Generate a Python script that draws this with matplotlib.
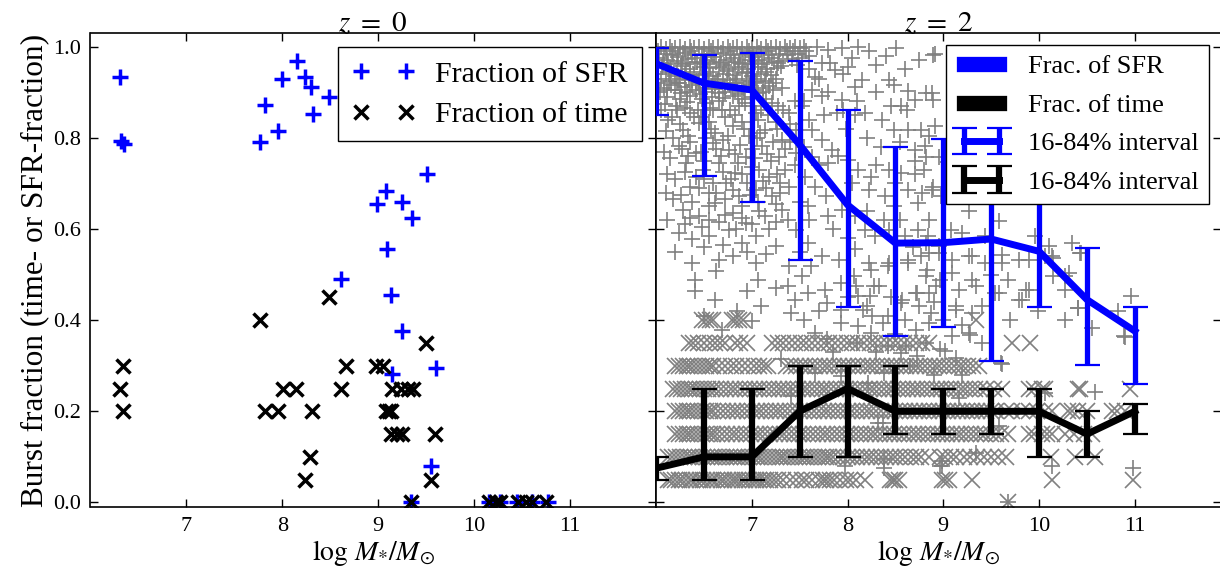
import numpy as np
import matplotlib.pyplot as plt
from matplotlib.lines import Line2D

plt.rcParams['font.family'] = ['Liberation Serif', 'DejaVu Serif']
plt.rcParams['mathtext.fontset'] = 'stix'

# ---- z = 0 : individual galaxies ----
sfr0 = [(6.31, 0.934), (6.32, 0.792), (6.35, 0.787), (7.77, 0.790), (7.82, 0.872),
        (7.96, 0.816), (8.00, 0.929), (8.15, 0.969), (8.24, 0.934), (8.30, 0.912),
        (8.32, 0.852), (8.49, 0.890), (8.61, 0.490), (9.51, 0.720), (9.08, 0.683),
        (8.99, 0.655), (9.25, 0.660), (9.35, 0.625), (9.09, 0.557), (9.14, 0.456),
        (9.25, 0.376), (9.60, 0.295), (9.15, 0.281), (9.55, 0.079), (9.34, 0.0),
        (10.16, 0.0), (10.27, 0.0), (10.45, 0.0), (10.61, 0.0), (10.77, 0.0)]
time0 = [(6.34, 0.30), (6.31, 0.25), (6.34, 0.20), (7.77, 0.40), (7.82, 0.20),
         (7.96, 0.20), (8.01, 0.25), (8.14, 0.25), (8.31, 0.20), (8.29, 0.10),
         (8.24, 0.05), (8.49, 0.45), (8.67, 0.30), (8.61, 0.25), (8.98, 0.30),
         (9.05, 0.30), (9.50, 0.35), (9.15, 0.25), (9.24, 0.25), (9.31, 0.25),
         (9.36, 0.25), (9.08, 0.20), (9.11, 0.20), (9.14, 0.20), (9.14, 0.15),
         (9.20, 0.15), (9.25, 0.15), (9.59, 0.15), (9.55, 0.05), (9.34, 0.0),
         (10.16, 0.0), (10.23, 0.0), (10.27, 0.0), (10.46, 0.0), (10.54, 0.0),
         (10.61, 0.0), (10.75, 0.0)]

# ---- z = 2 : individual galaxies, SFR fraction ----
sfr2 = [
    # top band
    (6.05, 1.0), (6.1, 0.995), (6.15, 1.0), (6.2, 0.997), (6.25, 1.0), (6.3, 0.994),
    (6.35, 1.0), (6.4, 0.998), (6.45, 1.0), (6.5, 0.995), (6.55, 1.0), (6.6, 0.997),
    (6.65, 1.0), (6.7, 0.994), (6.75, 1.0), (6.8, 0.998), (6.85, 1.0), (6.9, 0.995),
    (6.95, 1.0), (7.0, 0.997), (7.05, 1.0), (7.1, 0.994), (7.15, 1.0), (7.2, 0.998),
    (7.25, 1.0), (7.3, 0.995), (7.35, 1.0), (7.4, 0.997), (7.45, 1.0), (7.5, 0.996),
    (7.55, 1.0), (7.68, 1.0), (7.80, 0.993), (7.94, 0.997), (8.11, 1.0), (8.22, 0.991),
    (8.51, 0.996), (8.91, 0.985), (8.89, 0.982),
    (6.02, 0.99), (6.07, 0.965), (6.17, 0.99), (6.27, 0.965), (6.37, 0.99),
    (6.47, 0.965), (6.57, 0.99), (6.67, 0.965), (6.77, 0.99), (6.87, 0.965),
    (6.97, 0.99), (7.07, 0.965), (7.17, 0.99), (7.27, 0.965), (7.37, 0.99),
    (7.47, 0.96),
    (6.08, 0.985), (6.18, 0.982), (6.28, 0.986), (6.38, 0.981), (6.48, 0.985),
    (6.58, 0.983), (6.68, 0.986), (6.78, 0.981), (6.88, 0.985), (6.98, 0.982),
    (7.08, 0.986), (7.18, 0.982), (7.28, 0.985), (7.38, 0.981), (7.48, 0.984),
    (7.6, 0.98), (6.12, 0.97), (6.22, 0.968), (6.33, 0.972), (6.43, 0.966),
    (6.53, 0.97), (6.63, 0.967), (6.73, 0.971), (6.83, 0.966), (6.93, 0.97),
    (7.03, 0.968), (7.13, 0.971), (7.23, 0.966), (7.33, 0.969), (7.42, 0.972),
    (6.06, 0.955), (6.16, 0.952), (6.26, 0.957), (6.36, 0.951), (6.46, 0.955),
    (6.56, 0.953), (6.66, 0.956), (6.76, 0.95), (6.86, 0.955), (6.96, 0.952),
    (7.06, 0.956), (7.16, 0.951), (7.26, 0.954), (7.73, 0.964), (7.87, 0.949),
    (8.01, 0.956),
    (6.03, 0.975), (6.13, 0.962), (6.23, 0.978), (6.31, 0.962), (6.41, 0.976),
    (6.51, 0.961), (6.61, 0.977), (6.71, 0.96), (6.81, 0.975), (6.91, 0.962),
    (7.01, 0.977), (7.11, 0.961), (7.21, 0.976), (7.31, 0.958), (7.43, 0.99),
    (7.52, 0.975), (7.57, 0.99),
    (6.1, 0.94), (6.2, 0.936), (6.3, 0.941), (6.4, 0.937), (6.5, 0.94), (6.6, 0.935),
    (6.7, 0.94), (6.8, 0.937), (6.9, 0.942), (7.0, 0.936), (7.1, 0.94), (7.2, 0.938),
    (7.66, 0.934), (6.14, 0.925), (6.24, 0.921), (6.34, 0.926), (6.44, 0.92),
    (6.54, 0.925), (6.64, 0.922), (6.74, 0.926), (6.84, 0.921), (6.94, 0.925),
    (7.04, 0.922), (7.14, 0.924), (8.15, 0.927), (8.43, 0.927),
    (6.05, 0.93), (6.15, 0.945), (6.25, 0.93), (6.35, 0.945), (6.45, 0.93),
    (6.55, 0.944), (6.65, 0.93), (6.75, 0.946), (6.85, 0.93), (6.95, 0.944),
    (7.05, 0.93), (7.15, 0.945), (7.25, 0.93),
    (6.02, 0.92), (6.12, 0.905), (6.22, 0.92), (6.32, 0.9), (6.42, 0.925),
    (6.52, 0.9), (6.62, 0.92), (6.72, 0.9), (6.82, 0.92), (6.92, 0.9), (7.02, 0.92),
    (7.12, 0.9), (7.22, 0.92), (7.32, 0.91),
    (6.08, 0.91), (6.2, 0.906), (6.3, 0.912), (6.42, 0.905), (6.52, 0.91),
    (6.62, 0.907), (6.72, 0.911), (6.82, 0.905), (6.92, 0.909), (7.02, 0.906),
    (7.12, 0.91), (7.22, 0.905), (7.63, 0.905), (8.08, 0.912), (8.49, 0.916),
    (6.04, 0.9), (6.16, 0.915), (6.26, 0.898), (6.38, 0.915), (6.46, 0.897),
    (6.58, 0.914), (6.66, 0.898), (6.77, 0.915), (6.86, 0.897), (6.97, 0.916),
    (7.07, 0.898), (7.18, 0.914),
    (6.12, 0.89), (6.25, 0.886), (6.36, 0.892), (6.48, 0.885), (6.58, 0.89),
    (6.7, 0.887), (6.8, 0.891), (6.9, 0.885), (7.0, 0.889), (7.15, 0.886),
    (7.73, 0.891), (7.94, 0.883), (8.63, 0.902), (8.88, 0.898), (8.70, 0.883),
    (8.82, 0.898), (8.89, 0.883),
    (6.09, 0.875), (6.22, 0.86), (6.32, 0.878), (6.44, 0.86), (6.56, 0.866),
    (6.66, 0.88), (6.77, 0.862), (6.93, 0.877), (7.1, 0.862), (7.27, 0.87),
    (7.45, 0.88),
    (6.21, 0.869), (6.35, 0.854), (6.52, 0.876), (6.69, 0.861), (6.87, 0.869),
    (7.04, 0.854), (7.21, 0.876), (7.39, 0.854), (7.52, 0.869), (8.56, 0.869),
    (7.89, 0.854), (8.08, 0.850), (8.18, 0.854), (8.36, 0.839),
    (6.05, 0.86), (6.17, 0.845), (6.3, 0.865), (6.47, 0.845), (6.6, 0.86),
    (6.83, 0.85), (7.0, 0.87), (7.17, 0.85), (7.33, 0.86),
    # upper middle
    (6.13, 0.84), (6.25, 0.83), (6.4, 0.845), (6.55, 0.835), (6.72, 0.845),
    (6.9, 0.835), (7.07, 0.84), (7.25, 0.835), (7.4, 0.83),
    (6.28, 0.818), (6.45, 0.832), (6.62, 0.810), (6.80, 0.825), (6.97, 0.803),
    (7.14, 0.818), (7.32, 0.796), (7.46, 0.818), (7.63, 0.818), (7.73, 0.796),
    (8.49, 0.818), (8.63, 0.818), (8.77, 0.818), (8.91, 0.825), (8.85, 0.803),
    (6.1, 0.815), (6.33, 0.805), (6.57, 0.82), (6.75, 0.805), (6.92, 0.82),
    (7.09, 0.81), (7.26, 0.82), (7.4, 0.79),
    (6.18, 0.8), (6.36, 0.79), (6.52, 0.8), (6.7, 0.795), (6.88, 0.785),
    (7.05, 0.8), (7.22, 0.79),
    (6.24, 0.781), (6.42, 0.767), (6.59, 0.788), (6.76, 0.774), (6.94, 0.759),
    (7.11, 0.781), (7.28, 0.759), (7.46, 0.767), (7.84, 0.774), (7.63, 0.759),
    (8.81, 0.781), (8.70, 0.774), (8.95, 0.759), (8.82, 0.759),
    (6.08, 0.77), (6.27, 0.775), (6.47, 0.77), (6.63, 0.775), (6.82, 0.765),
    (7.0, 0.775), (7.16, 0.765), (7.35, 0.775),
    (6.15, 0.755), (6.33, 0.76), (6.5, 0.75), (6.68, 0.76), (6.86, 0.745),
    (7.03, 0.755), (7.2, 0.75), (7.45, 0.74),
    (6.31, 0.744), (6.49, 0.730), (6.66, 0.744), (6.83, 0.723), (7.00, 0.737),
    (7.18, 0.715), (7.35, 0.730), (7.80, 0.744), (8.01, 0.752), (8.11, 0.730),
    (8.25, 0.715), (8.43, 0.730), (8.56, 0.723), (8.80, 0.730), (9.05, 0.748),
    (6.12, 0.72), (6.3, 0.725), (6.5, 0.71), (6.7, 0.725), (6.9, 0.72),
    (7.08, 0.73), (7.26, 0.72),
    (6.2, 0.71), (6.42, 0.715), (6.6, 0.7), (6.78, 0.71), (6.95, 0.7),
    (7.12, 0.705), (7.3, 0.7),
    (6.35, 0.693), (6.55, 0.679), (6.73, 0.701), (6.87, 0.672), (7.04, 0.686),
    (7.21, 0.672), (7.39, 0.693), (7.56, 0.715), (7.66, 0.693), (7.77, 0.672),
    (8.22, 0.686), (8.39, 0.672), (8.49, 0.650), (8.63, 0.686), (8.74, 0.657),
    (8.88, 0.686), (8.98, 0.672), (8.89, 0.693), (8.78, 0.679),
    (6.1, 0.68), (6.26, 0.675), (6.45, 0.69), (6.63, 0.68), (6.8, 0.685),
    (6.98, 0.675), (7.15, 0.69), (7.3, 0.68),
    (6.18, 0.665), (6.38, 0.66), (6.55, 0.65), (6.72, 0.665), (6.9, 0.65),
    (7.06, 0.66), (7.25, 0.655), (7.5, 0.66),
    (6.28, 0.642), (6.45, 0.628), (6.62, 0.657), (6.80, 0.635), (6.94, 0.613),
    (7.14, 0.628), (7.32, 0.642), (7.59, 0.650), (7.80, 0.628), (7.94, 0.642),
    (8.08, 0.628), (8.18, 0.598), (8.29, 0.584), (8.43, 0.598), (8.60, 0.584),
    (8.74, 0.598), (8.84, 0.584), (8.95, 0.562), (9.27, 0.639), (9.58, 0.617),
    (9.08, 0.598), (9.20, 0.591), (9.44, 0.584), (8.82, 0.569), (9.96, 0.584),
    (6.12, 0.62), (6.35, 0.625), (6.55, 0.62), (6.72, 0.63), (6.9, 0.625),
    (7.08, 0.64), (7.25, 0.615),
    (6.3, 0.61), (6.48, 0.605), (6.66, 0.615), (6.84, 0.6), (7.0, 0.61),
    (7.18, 0.6), (7.38, 0.62),
    (6.24, 0.591), (6.38, 0.577), (6.55, 0.584), (6.76, 0.598), (6.90, 0.569),
    (7.04, 0.584), (7.25, 0.562), (7.46, 0.598), (7.59, 0.569), (7.73, 0.540),
    (7.91, 0.533), (8.08, 0.555), (8.22, 0.525), (8.43, 0.525), (8.63, 0.525),
    (8.77, 0.540), (8.95, 0.547), (10.1, 0.562), (10.34, 0.569), (9.30, 0.540),
    (9.79, 0.533), (9.61, 0.525),
    (6.2, 0.55), (6.5, 0.56), (6.7, 0.565), (6.95, 0.55), (7.15, 0.545),
    # right of the dense cloud
    (7.6, 0.95), (7.7, 0.93), (7.82, 0.965), (7.95, 0.94), (8.05, 0.975),
    (8.3, 0.96), (8.4, 0.98), (8.6, 0.95), (8.75, 0.97), (7.55, 0.88), (7.8, 0.9),
    (7.95, 0.86), (8.1, 0.88), (8.3, 0.9), (8.45, 0.87), (8.62, 0.86), (7.6, 0.84),
    (7.75, 0.85), (7.98, 0.82), (8.2, 0.8), (8.35, 0.78), (8.55, 0.79), (8.7, 0.75),
    (7.55, 0.78), (7.7, 0.74), (7.9, 0.76), (8.05, 0.7), (8.3, 0.74), (8.5, 0.7),
    (8.7, 0.72), (7.6, 0.62), (7.85, 0.6), (8.0, 0.58), (8.2, 0.64), (8.38, 0.62),
    (8.55, 0.62), (8.68, 0.56), (8.85, 0.62),
    # lower
    (6.38, 0.525), (6.66, 0.533), (6.80, 0.540), (7.04, 0.525), (7.39, 0.518),
    (6.63, 0.507), (6.41, 0.489), (7.07, 0.489), (6.41, 0.463), (6.62, 0.445),
    (6.95, 0.463), (7.38, 0.474), (7.52, 0.496), (7.62, 0.518), (7.45, 0.445),
    (7.59, 0.460), (7.76, 0.467), (7.93, 0.482), (8.07, 0.496), (8.25, 0.511),
    (8.42, 0.518), (8.63, 0.533), (8.83, 0.511), (8.97, 0.489), (7.79, 0.438),
    (7.93, 0.423), (8.11, 0.452), (8.28, 0.474), (8.42, 0.409), (8.56, 0.438),
    (8.73, 0.460), (8.87, 0.416), (6.69, 0.379), (7.00, 0.398), (7.41, 0.416),
    (7.55, 0.401), (7.66, 0.372), (7.79, 0.358), (7.93, 0.394), (8.11, 0.387),
    (8.25, 0.372), (8.42, 0.343), (8.56, 0.328), (8.73, 0.321), (8.97, 0.336),
    (7.31, 0.314), (7.66, 0.285), (7.93, 0.277), (8.38, 0.285), (7.97, 0.080),
    (8.38, 0.095), (8.97, 0.080), (7.41, 0.233), (8.32, 0.175), (8.21, 0.263),
    (7.5, 0.55), (7.25, 0.47), (7.1, 0.43), (6.85, 0.42), (6.5, 0.41), (7.7, 0.42),
    (8.0, 0.45), (8.2, 0.43), (8.45, 0.45), (8.6, 0.4), (8.5, 0.37), (8.3, 0.33),
    (8.1, 0.35), (7.85, 0.33), (8.65, 0.3), (8.9, 0.44), (9.0, 0.4), (9.2, 0.39),
    (9.4, 0.43), (9.4, 0.35), (9.5, 0.5), (9.7, 0.4), (9.2, 0.28), (8.9, 0.28),
    (8.09, 0.474), (8.23, 0.452), (8.33, 0.474), (8.16, 0.423), (8.26, 0.409),
    (8.37, 0.394), (8.57, 0.445), (8.71, 0.460), (8.75, 0.430), (8.85, 0.394),
    (8.71, 0.379), (8.61, 0.343), (8.82, 0.350), (9.02, 0.332), (9.13, 0.317),
    (8.92, 0.474), (9.16, 0.467), (9.34, 0.474), (9.13, 0.423), (9.30, 0.416),
    (9.27, 0.372), (9.09, 0.365), (9.58, 0.460), (9.82, 0.445), (9.89, 0.467),
    (9.99, 0.420), (9.61, 0.303), (8.37, 0.175), (9.16, 0.230), (9.58, 0.168),
    (8.38, 0.076), (8.99, 0.091), (9.34, 0.109),
    (8.85, 0.547), (9.09, 0.533), (9.27, 0.540), (9.44, 0.525), (9.61, 0.544),
    (9.89, 0.533), (10.13, 0.540), (10.44, 0.547), (8.82, 0.496), (9.09, 0.504),
    (9.30, 0.489), (9.68, 0.489), (10.27, 0.496), (8.85, 0.460), (9.13, 0.430),
    (9.54, 0.460), (9.79, 0.445), (9.86, 0.467), (10.27, 0.401), (10.41, 0.427),
    (10.82, 0.420), (10.96, 0.452), (9.28, 0.368), (9.60, 0.306), (10.55, 0.383),
    (10.89, 0.365), (10.58, 0.242), (10.06, 0.241), (10.13, 0.080), (10.98, 0.076),
    (8.99, 0.080), (10.06, 0.540), (10.15, 0.536), (10.43, 0.547), (10.15, 0.496),
    (10.31, 0.504), (10.27, 0.467), (10.41, 0.427), (10.90, 0.363), (9.68, 0.0),
]

# ---- z = 2 : time fraction, x positions at each discrete level ----
t00 = [9.68]
t05 = [6.13, 6.16, 6.2, 6.24, 6.27, 6.31, 6.35, 6.38, 6.42, 6.46, 6.49, 6.53, 6.57,
       6.6, 6.64, 6.68, 6.71, 6.75, 6.79, 6.82, 6.86, 6.9, 6.93, 6.97, 7.01, 7.04,
       7.08, 7.12, 7.15, 7.19, 7.23, 7.27, 7.33, 7.4, 7.46, 7.52, 7.57, 7.63, 7.7,
       7.74, 7.78, 7.82, 7.86, 7.92, 7.98, 8.03, 8.09, 8.18, 8.44, 8.47, 8.5, 8.54,
       8.99, 9.02, 9.06, 9.3, 10.13, 10.98]
t10 = [6.13, 6.17, 6.21, 6.25, 6.29, 6.33, 6.37, 6.41, 6.45, 6.49, 6.53, 6.57, 6.61,
       6.65, 6.69, 6.73, 6.77, 6.81, 6.85, 6.89, 6.93, 6.97, 7.01, 7.05, 7.09, 7.13,
       7.17, 7.21, 7.25, 7.29, 7.33, 7.37, 7.41, 7.45, 7.49, 7.53, 7.57, 7.61, 7.65,
       7.69, 7.73, 7.77, 7.81, 7.85, 7.9, 7.95, 8.0, 8.05, 8.1, 8.15, 8.2, 8.25, 8.3,
       8.35, 8.4, 8.45, 8.5, 8.55, 8.6, 8.66, 8.71, 8.77, 8.85, 8.97, 9.02, 9.08,
       9.13, 9.22, 9.28, 9.35, 9.42, 9.5, 9.57, 9.65, 10.12, 10.38, 10.58]
t15 = [6.2, 6.24, 6.28, 6.32, 6.36, 6.4, 6.44, 6.48, 6.52, 6.56, 6.6, 6.64, 6.69,
       6.74, 6.79, 6.84, 6.89, 6.94, 6.99, 7.04, 7.09, 7.14, 7.19, 7.24, 7.29, 7.34,
       7.39, 7.44, 7.49, 7.54, 7.59, 7.64, 7.69, 7.74, 7.79, 7.84, 7.89, 7.94, 7.99,
       8.04, 8.09, 8.14, 8.19, 8.24, 8.29, 8.34, 8.39, 8.44, 8.49, 8.54, 8.59, 8.64,
       8.69, 8.74, 8.79, 8.84, 8.89, 8.94, 8.99, 9.04, 9.09, 9.14, 9.19, 9.24, 9.29,
       9.34, 9.39, 9.44, 9.5, 9.55, 9.6, 9.68, 9.89, 9.95, 10.03, 10.08, 10.13,
       10.27, 10.36, 10.47, 10.55]
t20 = [6.2, 6.24, 6.28, 6.32, 6.36, 6.4, 6.44, 6.48, 6.52, 6.56, 6.6, 6.65, 6.7,
       6.75, 6.8, 6.85, 6.9, 6.95, 7.0, 7.05, 7.1, 7.15, 7.2, 7.25, 7.3, 7.35, 7.4,
       7.45, 7.5, 7.55, 7.6, 7.65, 7.7, 7.75, 7.8, 7.85, 7.9, 7.95, 8.0, 8.05, 8.1,
       8.15, 8.2, 8.25, 8.3, 8.35, 8.4, 8.45, 8.5, 8.55, 8.6, 8.65, 8.7, 8.75, 8.8,
       8.85, 8.9, 8.95, 9.0, 9.05, 9.1, 9.15, 9.2, 9.25, 9.3, 9.35, 9.4, 9.45, 9.5,
       9.55, 9.65, 9.72, 9.82, 9.9, 9.98, 10.06, 10.13, 10.3, 10.34, 10.41, 10.5,
       10.76, 10.81, 10.9]
t25 = [6.18, 6.22, 6.26, 6.3, 6.34, 6.38, 6.42, 6.46, 6.5, 6.54, 6.58, 6.63, 6.68,
       6.73, 6.78, 6.83, 6.88, 6.93, 6.98, 7.03, 7.08, 7.13, 7.18, 7.23, 7.28, 7.33,
       7.38, 7.43, 7.48, 7.53, 7.58, 7.63, 7.68, 7.73, 7.78, 7.83, 7.88, 7.93, 7.98,
       8.03, 8.08, 8.13, 8.18, 8.23, 8.28, 8.33, 8.38, 8.43, 8.48, 8.53, 8.58, 8.63,
       8.68, 8.73, 8.78, 8.83, 8.88, 8.93, 8.98, 9.03, 9.08, 9.13, 9.18, 9.23, 9.28,
       9.33, 9.38, 9.45, 9.53, 9.61, 9.89, 9.95, 10.03, 10.06, 10.41, 10.43, 10.95]
t30 = [6.2, 6.24, 6.28, 6.32, 6.36, 6.4, 6.44, 6.48, 6.52, 6.56, 6.6, 6.66, 6.72,
       6.78, 6.84, 6.9, 6.96, 7.02, 7.08, 7.13, 7.17, 7.36, 7.41, 7.46, 7.51, 7.56,
       7.61, 7.66, 7.71, 7.76, 7.81, 7.86, 7.91, 7.96, 8.01, 8.06, 8.11, 8.16, 8.21,
       8.26, 8.31, 8.36, 8.41, 8.46, 8.51, 8.56, 8.61, 8.66, 8.71, 8.76, 8.81, 8.86,
       8.91, 8.96, 9.01, 9.06, 9.11, 9.16, 9.21, 9.26, 9.31, 9.37]
t35 = [6.34, 6.39, 6.44, 6.5, 6.56, 6.62, 6.67, 6.72, 6.82, 6.88, 6.95, 7.21, 7.27,
       7.33, 7.39, 7.45, 7.51, 7.57, 7.63, 7.69, 7.75, 7.81, 7.87, 7.93, 7.99, 8.05,
       8.11, 8.17, 8.23, 8.29, 8.35, 8.41, 8.47, 8.53, 8.59, 8.65, 8.71, 8.78, 8.85,
       9.72, 9.91]
t40 = [6.48, 6.52, 6.56, 6.6, 6.79, 6.83, 6.87, 6.91, 9.34]

# ---- z = 2 : medians and 16-84% intervals ----
mbins = [6.0, 6.5, 7.0, 7.5, 8.0, 8.5, 9.0, 9.5, 10.0, 10.5, 11.0]
sfr_med = [0.963, 0.920, 0.905, 0.785, 0.653, 0.569, 0.570, 0.578, 0.551, 0.445, 0.376]
sfr_lo = [0.850, 0.717, 0.660, 0.531, 0.429, 0.366, 0.385, 0.310, 0.429, 0.301, 0.260]
sfr_hi = [0.996, 0.982, 0.986, 0.969, 0.860, 0.780, 0.797, 0.860, 0.761, 0.558, 0.428]
time_med = [0.075, 0.10, 0.10, 0.20, 0.25, 0.20, 0.20, 0.20, 0.20, 0.15, 0.20]
time_lo = [0.05, 0.05, 0.05, 0.10, 0.10, 0.15, 0.15, 0.15, 0.10, 0.10, 0.15]
time_hi = [0.10, 0.25, 0.25, 0.30, 0.30, 0.30, 0.25, 0.25, 0.25, 0.20, 0.217]

W, H = 1220, 575
fig = plt.figure(figsize=(W / 100, H / 100), dpi=100)
bot = 1 - 507 / H
hgt = (507 - 33) / H
ax1 = fig.add_axes([90.5 / W, bot, (656 - 90.5) / W, hgt])
ax2 = fig.add_axes([656 / W, bot, (1221 - 656) / W, hgt])

for ax in (ax1, ax2):
    ax.set_xlim(6, 11.9)
    ax.set_ylim(-0.01, 1.03)
    ax.set_xticks([7, 8, 9, 10, 11])
    ax.set_yticks([0.0, 0.2, 0.4, 0.6, 0.8, 1.0])
    ax.tick_params(direction='in', top=True, right=True, length=6, width=1,
                   labelsize=16, pad=7)
    for s in ax.spines.values():
        s.set_linewidth(1.2)
    ax.set_xlabel(r'$\log\,M_{*}/M_{\odot}$', fontsize=20, labelpad=2)
ax1.yaxis.set_major_formatter(plt.FormatStrFormatter('%.1f'))
ax2.tick_params(labelleft=False)

# left panel
s0 = np.array(sfr0)
t0 = np.array(time0)
ax1.plot(s0[:, 0], s0[:, 1], '+', color='#0000ff', ms=11, mew=2.5,
         label='Fraction of SFR')
ax1.plot(t0[:, 0], t0[:, 1], 'x', color='black', ms=10, mew=2.5,
         label='Fraction of time')
ax1.set_title(r'$z\ =\ 0$', fontsize=21, pad=1)
ax1.set_ylabel('Burst fraction (time- or SFR-fraction)', fontsize=22.5, labelpad=3)
ax1.legend(loc='upper right', numpoints=2, fontsize=21.5, fancybox=False,
           framealpha=1, edgecolor='black', borderaxespad=0.48,
           handlelength=2.1, handletextpad=0.7, borderpad=0.45, labelspacing=0.45)

# right panel
s2 = np.array(sfr2)
ax2.plot(s2[:, 0], s2[:, 1], '+', color='gray', ms=11, mew=1.2, zorder=1)
levels = [(0.0, t00), (0.05, t05), (0.10, t10), (0.15, t15), (0.20, t20),
          (0.25, t25), (0.30, t30), (0.35, t35), (0.40, t40)]
for lev, xs in levels:
    ax2.plot(xs, [lev] * len(xs), 'x', color='gray', ms=11, mew=1.2, zorder=1)

mb = np.array(mbins)
sm, sl, sh = map(np.array, (sfr_med, sfr_lo, sfr_hi))
tm, tl, th = map(np.array, (time_med, time_lo, time_hi))
eb1 = ax2.errorbar(mb, sm, yerr=[sm - sl, sh - sm], color='#0000ff', lw=5,
                   elinewidth=3.8, capsize=9, capthick=1.6, zorder=3)
eb2 = ax2.errorbar(mb, tm, yerr=[tm - tl, th - tm], color='black', lw=5,
                   elinewidth=4.5, capsize=9, capthick=1.6, zorder=3)
ax2.set_title(r'$z\ =\ 2$', fontsize=21, pad=1)

handles = [Line2D([], [], color='#0000ff', lw=11),
           Line2D([], [], color='black', lw=11), eb1, eb2]
labels = ['Frac. of SFR', 'Frac. of time', '16-84% interval', '16-84% interval']
ax2.legend(handles, labels, loc='upper right', numpoints=2, fontsize=19,
           fancybox=False, framealpha=1, edgecolor='black', borderaxespad=0.45,
           handlelength=1.93, handletextpad=0.8, borderpad=0.38, labelspacing=0.57)

fig.savefig('out.png', dpi=100)
